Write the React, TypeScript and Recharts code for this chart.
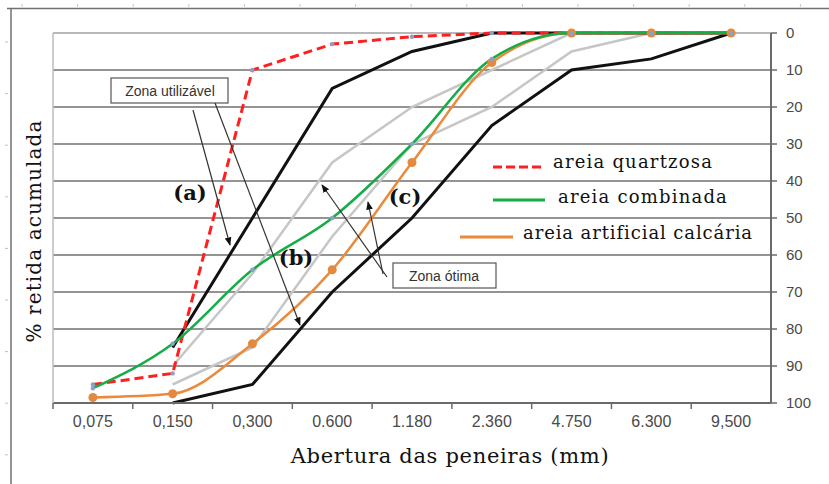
import React from 'react';
import { LineChart, Line, XAxis, YAxis, CartesianGrid, ReferenceLine } from 'recharts';

// aberturas das peneiras (mm), como aparecem no eixo
const sieves = ['0,075', '0,150', '0,300', '0.600', '1.180', '2.360', '4.750', '6.300', '9,500'];

// % retida acumulada
const quartzosa = [95, 92, 10, 3, 1, 0, 0, 0, 0];
const combinada = [96, 84, 64, 50, 30, 7, 0, 0, 0];
const calcaria = [98.5, 97.5, 84, 64, 35, 8, 0, 0, 0];

// limites NBR 7211
const utilizavelInf = [null, 100, 95, 70, 50, 25, 10, 7, 0];
const utilizavelSup = [null, 85, 50, 15, 5, 0, 0, 0, 0];
const otimaInf = [null, 95, 85, 55, 30, 20, 5, 0, 0];
const otimaSup = [null, 90, 65, 35, 20, 10, 0, 0, 0];

const yTicks = [0, 10, 20, 30, 40, 50, 60, 70, 80, 90, 100];

const data = sieves.map((s, i) => ({
  sieve: s,
  quartzosa: quartzosa[i],
  combinada: combinada[i],
  calcaria: calcaria[i],
  utilInf: utilizavelInf[i],
  utilSup: utilizavelSup[i],
  otInf: otimaInf[i],
  otSup: otimaSup[i],
}));

const W = 829;
const H = 484;
const PLOT_LEFT = 53;
const PLOT_RIGHT = 771;
const PLOT_TOP = 33;
const PLOT_BOTTOM = 403;
const HALF_BAND = (PLOT_RIGHT - PLOT_LEFT) / sieves.length / 2;

const AXIS = '#6a6a6a';
const TICK_TEXT = '#4a4a4a';
const SANS = '"Liberation Sans", Arial, sans-serif';
const SERIF = '"DejaVu Serif", serif';

const legendItems = [
  { name: 'areia quartzosa', color: '#ff1f1f', dash: '9 4' },
  { name: 'areia combinada', color: '#16ad48', dash: undefined },
  { name: 'areia artificial calcária', color: '#ec8a3c', dash: undefined },
];

const XTick = (props: any) => {
  const { x, payload } = props;
  return (
    <g>
      <line x1={x - HALF_BAND} x2={x - HALF_BAND} y1={PLOT_BOTTOM} y2={PLOT_BOTTOM + 6} stroke={AXIS} strokeWidth={1.5} />
      <text x={x} y={PLOT_BOTTOM + 24} textAnchor="middle" fontSize={16} fill={TICK_TEXT} fontFamily={SANS}>
        {payload.value}
      </text>
    </g>
  );
};

// só o tracinho; o número vai na camada de cima
const YTick = (props: any) => {
  const { y } = props;
  return <line x1={PLOT_RIGHT} x2={PLOT_RIGHT + 6} y1={y} y2={y} stroke={AXIS} strokeWidth={1.5} />;
};

const smallDot = { r: 2.2, fill: '#8ea0c6', stroke: 'none' };

const Overlay = () => {
  const leftTicks = [];
  for (let i = 0; i < 9; i++) leftTicks.push(42 + i * 51.6);
  const topTicks = [];
  for (let i = 0; i < 15; i++) topTicks.push(22 + i * 55.6);
  const yPos = (v: number) => PLOT_TOP + (v / 100) * (PLOT_BOTTOM - PLOT_TOP);
  return (
    <svg width={W} height={H} style={{ position: 'absolute', left: 0, top: 0, pointerEvents: 'none' }}>
      <defs>
        <marker id="arr" viewBox="0 0 10 10" refX="9" refY="5" markerWidth="7" markerHeight="7" orient="auto">
          <path d="M0,1 L10,5 L0,9 z" fill="#111" />
        </marker>
      </defs>
      {/* moldura */}
      <line x1={7} x2={W} y1={8.5} y2={8.5} stroke="#707070" strokeWidth={1.5} />
      <line x1={11} x2={11} y1={8} y2={H} stroke="#707070" strokeWidth={1.5} />
      {topTicks.map((x) => (
        <line key={'t' + x} x1={x} x2={x} y1={4} y2={7} stroke="#c8c8c8" />
      ))}
      {leftTicks.map((y) => (
        <line key={'l' + y} x1={5} x2={8} y1={y} y2={y} stroke="#c0c0c0" />
      ))}
      <line x1={PLOT_LEFT} x2={PLOT_LEFT} y1={PLOT_TOP} y2={PLOT_BOTTOM} stroke="#bdbdbd" strokeWidth={1.5} />

      {/* números do eixo da direita */}
      {yTicks.map((v) => (
        <text key={'y' + v} x={PLOT_RIGHT + 15} y={yPos(v) + 5} fontSize={15} fill={TICK_TEXT} fontFamily={SANS}>
          {String(v)}
        </text>
      ))}

      {/* legenda */}
      <line x1={493} x2={545} y1={167} y2={167} stroke={legendItems[0].color} strokeWidth={3} strokeDasharray={legendItems[0].dash} />
      <text x={553} y={168} fontSize={18} letterSpacing={1.2} fontFamily={SERIF} fill="#111">{legendItems[0].name}</text>
      <line x1={493} x2={545} y1={200} y2={200} stroke={legendItems[1].color} strokeWidth={3} />
      <text x={558} y={203} fontSize={18} letterSpacing={1.2} fontFamily={SERIF} fill="#111">{legendItems[1].name}</text>
      <line x1={460} x2={513} y1={237} y2={237} stroke={legendItems[2].color} strokeWidth={3} />
      <text x={523} y={239} fontSize={18} letterSpacing={0.9} fontFamily={SERIF} fill="#111">{legendItems[2].name}</text>

      {/* anotações */}
      <rect x={111} y={78} width={117} height={25} fill="#fff" stroke="#555" strokeWidth={1.2} />
      <text x={170} y={96} textAnchor="middle" fontSize={14} fontFamily={SANS} fill="#333">Zona utilizável</text>
      <line x1={193} y1={110} x2={230} y2={245} stroke="#333" strokeWidth={1.2} markerEnd="url(#arr)" />
      <line x1={215} y1={103} x2={300} y2={325} stroke="#333" strokeWidth={1.2} markerEnd="url(#arr)" />

      <rect x={393} y={263} width={103} height={25} fill="#fff" stroke="#555" strokeWidth={1.2} />
      <text x={444} y={281} textAnchor="middle" fontSize={14} fontFamily={SANS} fill="#333">Zona ótima</text>
      <line x1={387} y1={277} x2={322} y2={185} stroke="#333" strokeWidth={1.2} markerEnd="url(#arr)" />
      <line x1={383} y1={274} x2={368} y2={202} stroke="#333" strokeWidth={1.2} markerEnd="url(#arr)" />

      <text x={190} y={200} textAnchor="middle" fontSize={21} fontWeight="bold" fontFamily={SERIF} fill="#111">(a)</text>
      <text x={296} y={265} textAnchor="middle" fontSize={21} fontWeight="bold" fontFamily={SERIF} fill="#111">(b)</text>
      <text x={405} y={204} textAnchor="middle" fontSize={21} fontWeight="bold" fontFamily={SERIF} fill="#111">(c)</text>

      {/* títulos dos eixos */}
      <text x={450} y={463} textAnchor="middle" fontSize={21} letterSpacing={0.7} fontFamily={SERIF} fill="#111">
        Abertura das peneiras (mm)
      </text>
      <text
        x={0}
        y={0}
        transform="translate(41,231) rotate(-90)"
        textAnchor="middle"
        fontSize={20}
        letterSpacing={1.1}
        fontFamily={SERIF}
        fill="#111"
      >
        % retida acumulada
      </text>
    </svg>
  );
};

export default function App() {
  return (
    <div style={{ position: 'absolute', left: 0, top: 0, width: W, height: H, background: '#fff' }}>
      <LineChart width={W} height={H} data={data} margin={{ top: PLOT_TOP, right: 18, bottom: 51, left: PLOT_LEFT }}>
        <CartesianGrid vertical={false} stroke="#707070" strokeWidth={1.6} />
        <ReferenceLine y={0} stroke="#c4c4c4" strokeWidth={1.6} />
        <XAxis
          dataKey="sieve"
          interval={0}
          padding={{ left: HALF_BAND, right: HALF_BAND }}
          axisLine={{ stroke: AXIS, strokeWidth: 2 }}
          tickLine={false}
          tick={<XTick />}
          height={30}
        />
        <YAxis
          type="number"
          orientation="right"
          domain={[0, 100]}
          reversed
          ticks={yTicks}
          interval={0}
          width={40}
          axisLine={{ stroke: AXIS, strokeWidth: 2 }}
          tickLine={false}
          tick={<YTick />}
        />
        <Line dataKey="otSup" type="linear" stroke="#c6c6c6" strokeWidth={2.5} dot={false} isAnimationActive={false} />
        <Line dataKey="otInf" type="linear" stroke="#c6c6c6" strokeWidth={2.5} dot={false} isAnimationActive={false} />
        <Line dataKey="utilSup" type="linear" stroke="#111" strokeWidth={3} dot={false} isAnimationActive={false} />
        <Line dataKey="utilInf" type="linear" stroke="#111" strokeWidth={3} dot={false} isAnimationActive={false} />
        <Line
          dataKey="quartzosa"
          type="linear"
          stroke={legendItems[0].color}
          strokeWidth={3}
          strokeDasharray="9 5"
          dot={smallDot}
          isAnimationActive={false}
        />
        <Line
          dataKey="calcaria"
          type="monotone"
          stroke={legendItems[2].color}
          strokeWidth={2.5}
          dot={{ r: 4.5, fill: '#e48a40', stroke: 'none' }}
          isAnimationActive={false}
        />
        <Line
          dataKey="combinada"
          type="monotone"
          stroke={legendItems[1].color}
          strokeWidth={2.5}
          dot={smallDot}
          isAnimationActive={false}
        />
      </LineChart>
      <Overlay />
    </div>
  );
}
